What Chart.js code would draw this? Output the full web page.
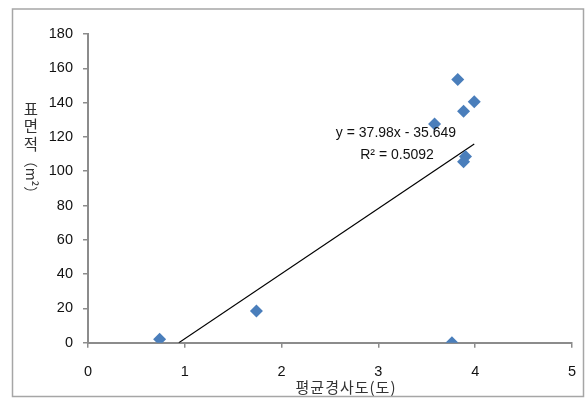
<!DOCTYPE html>
<html>
<head>
  <meta charset="utf-8">
  <title>평균경사도 - 표면적</title>
  <script src="https://cdn.jsdelivr.net/npm/chart.js"></script>
  <style>
    html, body { margin: 0; padding: 0; background: #fff; }
  </style>
</head>
<body>
  <canvas id="slopeChart" width="586" height="398"></canvas>
  <script>
    // 측정값 (평균경사도, 표면적)
    const slopeValues = [0.74, 1.74, 3.58, 3.82, 3.88, 3.99, 3.90, 3.88, 3.76];
    const areaValues = [2, 18.5, 127.5, 153.5, 135, 140.5, 108.5, 105.5, 0];
    const xTicks = [0, 1, 2, 3, 4, 5];
    const yTicks = [0, 20, 40, 60, 80, 100, 120, 140, 160, 180];
    // 추세선 (엑셀 표시값)
    const trendSlope = 37.98;
    const trendIntercept = -35.649;
    const trendText = ['y = 37.98x - 35.649', 'R² = 0.5092'];
    const xTitle = '평균경사도(도)';
    const yTitleParts = ['표', '면', '적'];
    const yTitleUnit = '（m²）';

    const points = slopeValues.map((x, i) => ({ x: x, y: areaValues[i] }));
    const trendStart = -trendIntercept / trendSlope;
    const trendEnd = Math.max(...slopeValues);
    const trendPoints = [
      { x: trendStart, y: 0 },
      { x: trendEnd, y: trendSlope * trendEnd + trendIntercept }
    ];

    const axisColor = '#8c8c8c';
    const tickFont = { family: 'Liberation Sans', size: 14.5 };

    const decor = {
      id: 'decor',
      beforeDraw(chart) {
        const ctx = chart.ctx;
        ctx.save();
        ctx.fillStyle = '#fff';
        ctx.fillRect(0, 0, chart.width, chart.height);
        ctx.strokeStyle = '#a6a6a6';
        ctx.lineWidth = 1.5;
        ctx.strokeRect(12.5, 9, 571, 387.5);
        ctx.restore();
      },
      afterDraw(chart) {
        const ctx = chart.ctx;
        ctx.save();
        ctx.fillStyle = '#111';
        // 추세선 수식
        ctx.font = '14px "Liberation Sans"';
        ctx.textAlign = 'center';
        ctx.textBaseline = 'middle';
        ctx.fillText(trendText[0], 396, 133);
        ctx.fillText(trendText[1], 397, 155);
        // x축 제목
        ctx.font = '15px "Noto Sans CJK KR"';
        ctx.fillStyle = '#333';
        ctx.letterSpacing = '1px';
        ctx.fillText(xTitle, 346, 387);
        ctx.letterSpacing = '0px';
        // y축 제목 (세로쓰기)
        const cx = 31;
        let y = 109;
        ctx.font = '15.5px "Noto Sans CJK KR"';
        yTitleParts.forEach(ch => {
          ctx.fillText(ch, cx, y);
          y += 17.5;
        });
        ctx.translate(cx, 177);
        ctx.rotate(Math.PI / 2);
        ctx.font = '14px "Noto Sans CJK KR"';
        ctx.fillText(yTitleUnit, 0, 0);
        ctx.restore();
      }
    };

    new Chart(document.getElementById('slopeChart'), {
      data: {
        datasets: [{
          type: 'scatter',
          data: points,
          pointStyle: 'rectRot',
          pointRadius: 6.5,
          pointHoverRadius: 6.5,
          backgroundColor: '#4a7ebb',
          borderColor: '#4a7ebb',
          borderWidth: 0
        }, {
          type: 'line',
          data: trendPoints,
          borderColor: '#000',
          borderWidth: 1.2,
          pointRadius: 0,
          fill: false
        }]
      },
      options: {
        responsive: false,
        animation: false,
        events: [],
        layout: { padding: { top: 34, right: 14, bottom: 0, left: 0 } },
        plugins: { legend: { display: false }, tooltip: { enabled: false } },
        scales: {
          x: {
            type: 'linear',
            min: 0, max: 5,
            afterBuildTicks: s => { s.ticks = xTicks.map(v => ({ value: v })); },
            afterFit: s => { s.height = 55.3; s.paddingLeft = 0; s.paddingRight = 0; },
            ticks: { font: tickFont, color: '#111', padding: 16, maxRotation: 0 },
            grid: { drawOnChartArea: false, tickLength: 5, color: axisColor, lineWidth: 1.5 },
            border: { color: axisColor, width: 2 }
          },
          y: {
            type: 'linear',
            min: 0, max: 180,
            afterBuildTicks: s => { s.ticks = yTicks.map(v => ({ value: v })); },
            afterFit: s => { s.width = 88; s.paddingTop = 0; s.paddingBottom = 0; },
            ticks: { font: tickFont, color: '#111', padding: 10 },
            grid: { drawOnChartArea: false, tickLength: 5, color: axisColor, lineWidth: 1.5 },
            border: { color: axisColor, width: 2 }
          }
        }
      },
      plugins: [decor]
    });
  </script>
</body>
</html>
